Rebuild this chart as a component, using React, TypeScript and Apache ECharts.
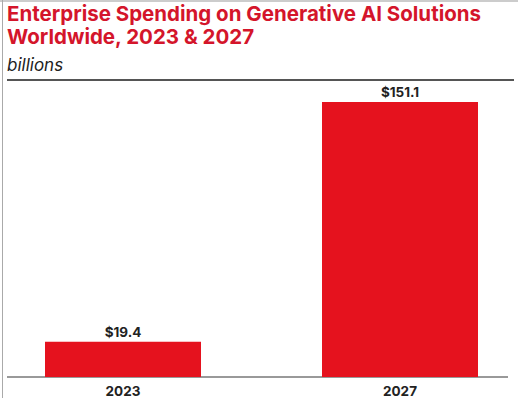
import React, { useEffect, useRef } from "react";
import * as echarts from "echarts";

const categories = ["2023", "2027"];
const values = [19.4, 151.1];
const titleLines = ["Enterprise Spending on Generative AI Solutions", "Worldwide, 2023 & 2027"];
const subtitle = "billions";

export default function App() {
  const ref = useRef<HTMLDivElement>(null);
  useEffect(() => {
    const chart = echarts.init(ref.current!, null, { renderer: "svg" });
    chart.setOption({
      animation: false,
      backgroundColor: "#ffffff",
      grid: { left: 123, right: 118, top: 102, bottom: 21 },
      xAxis: {
        type: "category",
        data: categories,
        boundaryGap: false,
        axisLine: { show: false },
        axisTick: { show: false },
        axisLabel: { color: "#222", fontSize: 13.5, fontWeight: "bold", fontFamily: "Inter", margin: 7 },
      },
      yAxis: { type: "value", min: 0, max: 151.1, show: false, splitLine: { show: false } },
      series: [
        {
          type: "bar",
          data: values,
          barWidth: 156,
          clip: false,
          itemStyle: { color: "#e5121e" },
          label: {
            show: true,
            position: "top",
            distance: 3,
            formatter: (p: any) => "$" + p.value.toFixed(1),
            color: "#222",
            fontSize: 13.5,
            fontWeight: "bold",
            fontFamily: "Inter",
          },
        },
      ],
      graphic: [
        { type: "line", shape: { x1: 0, y1: 1, x2: 518, y2: 1 }, style: { stroke: "#999", lineWidth: 1 } },
        { type: "line", shape: { x1: 2.5, y1: 0, x2: 2.5, y2: 398 }, style: { stroke: "#aaa", lineWidth: 1 } },
        {
          type: "text",
          left: 7,
          top: 2,
          style: {
            text: titleLines.join("\n"),
            fill: "#d4152b",
            font: "bold 20.5px Inter",
            lineHeight: 23,
          },
        },
        {
          type: "text",
          left: 7,
          top: 56,
          style: { text: subtitle, fill: "#222", font: "italic 17px Inter" },
        },
        { type: "line", shape: { x1: 7, y1: 80, x2: 514, y2: 80 }, style: { stroke: "#555", lineWidth: 2 } },
        { type: "line", shape: { x1: 7, y1: 377, x2: 508, y2: 377 }, style: { stroke: "#777", lineWidth: 1.5 } },
      ],
    });
    return () => chart.dispose();
  }, []);
  return <div ref={ref} style={{ width: 518, height: 398, position: "absolute", left: 0, top: 0 }} />;
}
